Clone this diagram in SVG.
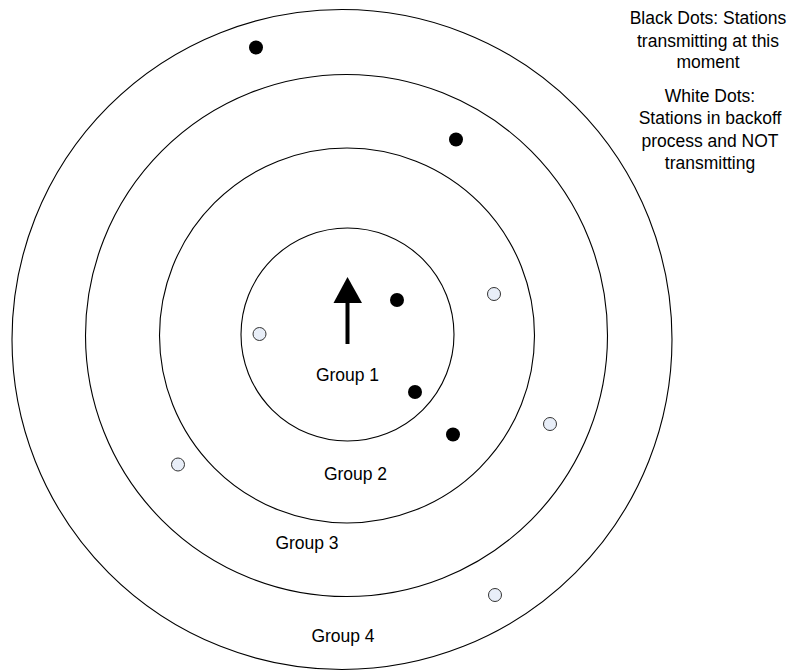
<svg xmlns="http://www.w3.org/2000/svg" width="792" height="671" viewBox="0 0 792 671">
<style>
.ring{fill:none;stroke:#000;stroke-width:1.1}
.blk{fill:#000}
.wht{fill:#e8eef8;stroke:#333;stroke-width:1}
text{font-family:"Liberation Sans",Arial,sans-serif;font-size:17.5px;fill:#000;text-anchor:middle}
</style>
<rect width="792" height="671" fill="#fff"/>
<g id="group4"><circle class="ring" cx="342" cy="339.5" r="330"/><text x="343" y="642">Group 4</text></g>
<g id="group3"><circle class="ring" cx="346.5" cy="335.5" r="261"/><text x="307" y="549">Group 3</text></g>
<g id="group2"><circle class="ring" cx="347" cy="335.5" r="187.5"/><text x="355.5" y="480">Group 2</text></g>
<g id="group1"><circle class="ring" cx="347.5" cy="334.5" r="106.5"/><text x="347.5" y="381">Group 1</text></g>
<g id="arrow"><line x1="347.5" y1="344" x2="347.5" y2="300" stroke="#000" stroke-width="4"/><polygon points="347.5,277 333.5,303 362,303" fill="#000"/></g>
<g id="stations">
<circle class="blk" cx="256" cy="47.5" r="7"/>
<circle class="blk" cx="456" cy="139.5" r="7"/>
<circle class="blk" cx="397" cy="300" r="7"/>
<circle class="blk" cx="415" cy="392" r="7"/>
<circle class="blk" cx="453" cy="434.5" r="7"/>
<circle class="wht" cx="259.5" cy="334" r="6.5"/>
<circle class="wht" cx="494" cy="294" r="6.5"/>
<circle class="wht" cx="550" cy="424" r="6.5"/>
<circle class="wht" cx="178" cy="464.5" r="6.5"/>
<circle class="wht" cx="495" cy="595" r="6.5"/>
</g>
<g id="legend">
<text x="708" y="24">Black Dots: Stations</text>
<text x="708" y="47">transmitting at this</text>
<text x="708" y="68">moment</text>
<text x="710" y="102">White Dots:</text>
<text x="710" y="124">Stations in backoff</text>
<text x="710" y="147">process and NOT</text>
<text x="710" y="169">transmitting</text>
</g>
</svg>
